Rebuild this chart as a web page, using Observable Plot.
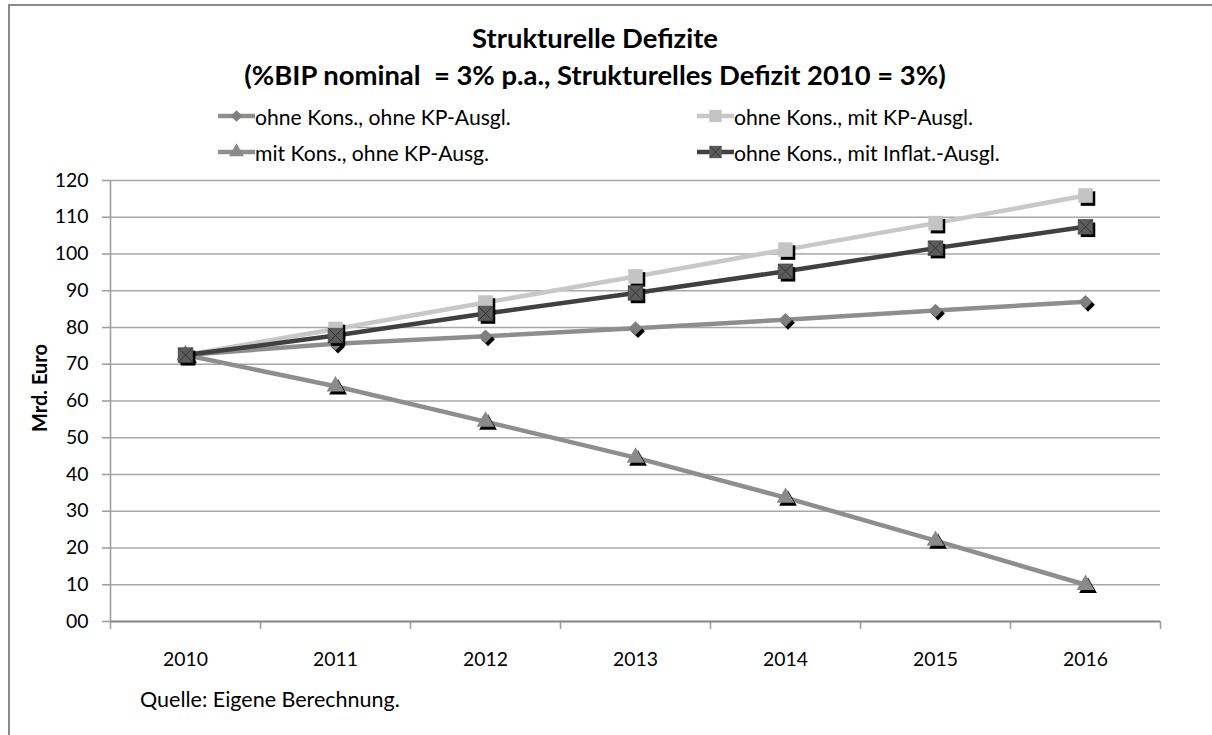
<!DOCTYPE html>
<html>
<head>
<meta charset="utf-8">
<script src="https://cdn.jsdelivr.net/npm/d3@7"></script>
<script src="https://cdn.jsdelivr.net/npm/@observablehq/plot@0.6"></script>
<style>
  html, body { margin: 0; padding: 0; background: #fff; }
  body { position: relative; width: 1212px; height: 735px; overflow: hidden; font-family: Lato, "Open Sans", sans-serif; color: #000; }
  #frame { position: absolute; left: 8px; top: 4px; width: 1230px; height: 760px; border: 2px solid #8a8a8a; box-sizing: border-box; }
  #chart { position: absolute; left: 0; top: 160px; }
  #texts { position: absolute; left: 0; top: 0; }
</style>
</head>
<body>
<div id="frame"></div>
<div id="chart"></div>
<svg id="texts" width="1212" height="735" font-family="Lato, 'Open Sans', sans-serif"></svg>
<script>
// ---- data ----
const years = [2010, 2011, 2012, 2013, 2014, 2015, 2016];
const seriesNames = [
  "ohne Kons., ohne KP-Ausgl.",
  "ohne Kons., mit KP-Ausgl.",
  "mit Kons., ohne KP-Ausg.",
  "ohne Kons., mit Inflat.-Ausgl."
];
const ohneKonsOhneKP = [72.5, 75.6, 77.6, 79.8, 82.1, 84.6, 87.0];
const ohneKonsMitKP = [72.5, 79.6, 86.8, 93.9, 101.2, 108.4, 115.9];
const mitKonsOhneKP = [72.5, 64.0, 54.4, 44.6, 33.7, 22.0, 10.0];
const ohneKonsMitInflat = [72.5, 77.8, 83.8, 89.4, 95.3, 101.6, 107.4];
const yTicks = [0, 10, 20, 30, 40, 50, 60, 70, 80, 90, 100, 110, 120];
const yTickLabels = ["00", "10", "20", "30", "40", "50", "60", "70", "80", "90", "100", "110", "120"];
const xBoundaries = [2009.5, 2010.5, 2011.5, 2012.5, 2013.5, 2014.5, 2015.5, 2016.5];
const titleText = "Strukturelle Defizite";
const subtitleText = "(%BIP nominal\u00a0 = 3% p.a., Strukturelles Defizit 2010 = 3%)";
const yLabelText = "Mrd. Euro";
const captionText = "Quelle: Eigene Berechnung.";

// ---- font fitting helper ----
const ctx = document.createElement("canvas").getContext("2d");
function fit(text, weight, target) {
  ctx.font = `${weight} 100px Lato`;
  return 100 * target / ctx.measureText(text).width;
}

// ---- styles per series ----
const styles = [
  {values: ohneKonsOhneKP, line: "#8e8e8e", fill: "#7f7f7f", symbol: "diamond2", r: 6.2},
  {values: ohneKonsMitKP, line: "#c8c8c8", fill: "#c4c4c4", symbol: "square", r: 8.2},
  {values: mitKonsOhneKP, line: "#8e8e8e", fill: "#8a8a8a", symbol: "triangle", r: 6.6},
  {values: ohneKonsMitInflat, line: "#404040", fill: "#5c5c5c", symbol: "square", r: 8.2, cross: true}
];
const rows = (vals) => years.map((year, i) => ({year, value: vals[i]}));
const tickFont = fit("2010", "normal", 45);

const marks = [
  Plot.ruleY(yTicks, {stroke: "#a8a8a8", strokeWidth: 1.6}),
  Plot.axisY({ticks: yTicks, tickFormat: (d) => yTickLabels[yTicks.indexOf(d)], tickSize: 8, tickPadding: 14, stroke: "#a0a0a0", strokeWidth: 1.6, fontSize: tickFont, label: null}),
  Plot.axisX({ticks: xBoundaries, tickSize: 8, tickFormat: () => "", stroke: "#a0a0a0", strokeWidth: 1.6, label: null}),
  Plot.axisX({ticks: years, tickSize: 0, tickPadding: 31, tickFormat: (d) => String(d), fontSize: tickFont, label: null}),
  Plot.ruleX([2009.5], {y1: 0, y2: 120, stroke: "#a0a0a0", strokeWidth: 1.6}),
  Plot.ruleY([0], {stroke: "#8c8c8c", strokeWidth: 1.8})
];
for (const s of styles) {
  marks.push(Plot.line(rows(s.values), {x: "year", y: "value", stroke: s.line, strokeWidth: 4.5}));
}
for (const s of styles) {
  const d = rows(s.values);
  marks.push(Plot.dot(d, {x: "year", y: "value", symbol: s.symbol, r: s.r, fill: "#000", dx: 2.5, dy: 3}));
  marks.push(Plot.dot(d, {x: "year", y: "value", symbol: s.symbol, r: s.r, fill: s.fill, stroke: s.cross ? "#4a4a4a" : "none", strokeWidth: 0.8}));
  if (s.cross) marks.push(Plot.dot(d, {x: "year", y: "value", symbol: "times", r: 6.5, stroke: "#333", strokeWidth: 1}));
}

const chart = Plot.plot({
  width: 1212,
  height: 520,
  marginLeft: 110,
  marginRight: 52,
  marginTop: 20,
  marginBottom: 59,
  style: {fontFamily: "Lato, 'Open Sans', sans-serif", color: "#000", background: "transparent"},
  x: {domain: [2009.5, 2016.5], type: "linear"},
  y: {domain: [0, 120]},
  marks
});
document.getElementById("chart").appendChild(chart);

// ---- title, subtitle, legend, labels (real text in an overlay svg) ----
const svg = d3.select("#texts");
const titleFont = fit(titleText, "bold", 246);
svg.append("text").attr("x", 595).attr("y", 48).attr("text-anchor", "middle").attr("font-weight", "bold").attr("font-size", titleFont).text(titleText);
svg.append("text").attr("x", 595).attr("y", 85).attr("text-anchor", "middle").attr("font-weight", "bold").attr("font-size", titleFont).text(subtitleText);

const legFont = fit(seriesNames[0], "normal", 256);
const legPos = [[218, 125], [697, 125], [218, 161], [697, 161]];
styles.forEach((s, i) => {
  const [x, y] = legPos[i];
  const g = svg.append("g").attr("transform", `translate(${x},${y - 9})`);
  g.append("line").attr("x1", 0).attr("x2", 37).attr("stroke", s.line).attr("stroke-width", 4.5);
  const type = s.symbol === "diamond2" ? d3.symbolDiamond2 : s.symbol === "triangle" ? d3.symbolTriangle : d3.symbolSquare;
  g.append("path").attr("transform", "translate(18.5,0)").attr("fill", s.fill).attr("d", d3.symbol(type, Math.PI * (s.r * 0.85) ** 2)());
  if (s.cross) g.append("path").attr("transform", "translate(18.5,0)").attr("fill", "none").attr("stroke", "#333").attr("d", d3.symbol(d3.symbolTimes, Math.PI * 25)());
  svg.append("text").attr("x", x + 37).attr("y", y).attr("font-size", legFont).text(seriesNames[i]);
});

svg.append("text").attr("transform", "translate(47,388) rotate(-90)").attr("text-anchor", "middle")
  .attr("font-weight", "bold").attr("font-size", fit(yLabelText, "bold", 88)).text(yLabelText);
svg.append("text").attr("x", 140).attr("y", 707).attr("font-size", fit(captionText, "normal", 260)).text(captionText);
</script>
</body>
</html>
